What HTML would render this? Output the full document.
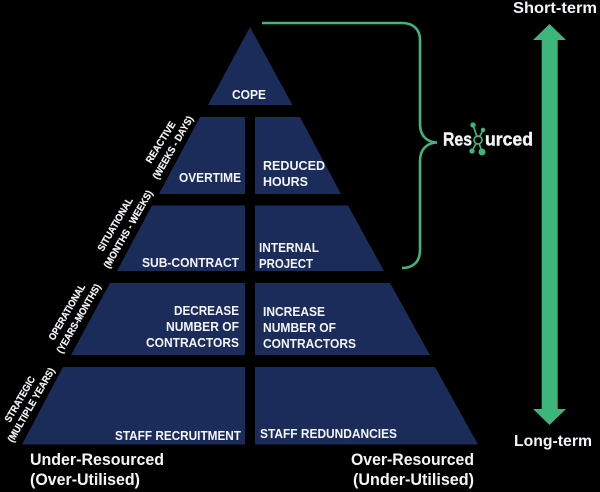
<!DOCTYPE html>
<html><head><meta charset="utf-8"><style>
html,body{margin:0;padding:0;background:#000;width:600px;height:492px;overflow:hidden}
svg{display:block}
text{font-family:"Liberation Sans",sans-serif;font-weight:bold;fill:#f4f5f8}
.s{font-size:12.5px}
.r{font-size:10px}
.b{font-size:16.5px}
</style></head><body>
<svg width="600" height="492" viewBox="0 0 600 492" xmlns="http://www.w3.org/2000/svg">
<rect width="600" height="492" fill="#000"/>
<g fill="#1b2c5a">
<polygon points="250,27 292.5,105 208,105"/>
<polygon points="200,117 245,117 245,194 159,194"/>
<polygon points="255,117 300,117 341,194 255,194"/>
<polygon points="152,205.5 245,205.5 245,271 117,271"/>
<polygon points="255,205.5 348,205.5 384,271 255,271"/>
<polygon points="110,283 245,283 245,355 71,355"/>
<polygon points="255,283 390,283 430,355 255,355"/>
<polygon points="63,367 245,367 245,444.5 22,444.5"/>
<polygon points="255,367 435,367 478,444.5 255,444.5"/>
</g>
<path d="M262,23 H402 C414,23 420,30 420,40 V124 C420,135 426,142 437,142.5 C426,143 420,150 420,161 V250 C420,261 414,268 402,268" fill="none" stroke="#3fb57c" stroke-width="2.6"/>
<polygon fill="#3cb67a" points="549.5,24 566,40 557.7,40 557.7,409 566,409 549.5,425 533,409 541.7,409 541.7,40 533,40"/>
<text class="s" x="232" y="99" textLength="34" lengthAdjust="spacingAndGlyphs">COPE</text>
<text class="s" x="179" y="182" textLength="62" lengthAdjust="spacingAndGlyphs">OVERTIME</text>
<text class="s" x="142" y="267" textLength="97" lengthAdjust="spacingAndGlyphs">SUB-CONTRACT</text>
<text class="s" x="174" y="315" textLength="65" lengthAdjust="spacingAndGlyphs">DECREASE</text>
<text class="s" x="166" y="331" textLength="73" lengthAdjust="spacingAndGlyphs">NUMBER OF</text>
<text class="s" x="146" y="347" textLength="93" lengthAdjust="spacingAndGlyphs">CONTRACTORS</text>
<text class="s" x="115" y="440" textLength="126" lengthAdjust="spacingAndGlyphs">STAFF RECRUITMENT</text>
<text class="s" x="263" y="170" textLength="62" lengthAdjust="spacingAndGlyphs">REDUCED</text>
<text class="s" x="263" y="186" textLength="45" lengthAdjust="spacingAndGlyphs">HOURS</text>
<text class="s" x="259" y="252" textLength="60" lengthAdjust="spacingAndGlyphs">INTERNAL</text>
<text class="s" x="259" y="268" textLength="54" lengthAdjust="spacingAndGlyphs">PROJECT</text>
<text class="s" x="263" y="316" textLength="62" lengthAdjust="spacingAndGlyphs">INCREASE</text>
<text class="s" x="263" y="332" textLength="73" lengthAdjust="spacingAndGlyphs">NUMBER OF</text>
<text class="s" x="263" y="348" textLength="93" lengthAdjust="spacingAndGlyphs">CONTRACTORS</text>
<text class="s" x="260" y="438" textLength="137" lengthAdjust="spacingAndGlyphs">STAFF REDUNDANCIES</text>
<text class="b" x="30" y="465" textLength="134" lengthAdjust="spacingAndGlyphs">Under-Resourced</text>
<text class="b" x="30" y="485" textLength="110" lengthAdjust="spacingAndGlyphs">(Over-Utilised)</text>
<text class="b" x="351" y="465" textLength="123" lengthAdjust="spacingAndGlyphs">Over-Resourced</text>
<text class="b" x="353" y="485" textLength="121" lengthAdjust="spacingAndGlyphs">(Under-Utilised)</text>
<text class="b" x="513" y="13" textLength="84" lengthAdjust="spacingAndGlyphs" style="font-size:15.5px">Short-term</text>
<text class="b" x="514" y="446" textLength="78" lengthAdjust="spacingAndGlyphs" style="font-size:15.5px">Long-term</text>
<g style="stroke:#f4f5f8;stroke-width:.2">
<text class="r" transform="translate(151,164) rotate(-58)" textLength="47" lengthAdjust="spacingAndGlyphs">REACTIVE</text>
<text class="r" transform="translate(158,180) rotate(-60)" textLength="71" lengthAdjust="spacingAndGlyphs">(WEEKS - DAYS)</text>
<text class="r" transform="translate(103,252) rotate(-60)" textLength="60" lengthAdjust="spacingAndGlyphs">SITUATIONAL</text>
<text class="r" transform="translate(109,269) rotate(-60)" textLength="88" lengthAdjust="spacingAndGlyphs">(MONTHS - WEEKS)</text>
<text class="r" transform="translate(54,341) rotate(-60)" textLength="63" lengthAdjust="spacingAndGlyphs">OPERATIONAL</text>
<text class="r" transform="translate(62,354) rotate(-60)" textLength="78" lengthAdjust="spacingAndGlyphs">(YEARS-MONTHS)</text>
<text class="r" transform="translate(10,423) rotate(-60)" textLength="51" lengthAdjust="spacingAndGlyphs">STRATEGIC</text>
<text class="r" transform="translate(13,443) rotate(-60)" textLength="84" lengthAdjust="spacingAndGlyphs">(MULTIPLE YEARS)</text>
</g>
<text x="443" y="145.5" style="font-size:18.5px;stroke:#f4f5f8;stroke-width:.4" textLength="29" lengthAdjust="spacingAndGlyphs">Res</text>
<text x="485" y="145.5" style="font-size:18.5px;stroke:#f4f5f8;stroke-width:.4" textLength="48" lengthAdjust="spacingAndGlyphs">urced</text>
<g stroke="#3fb57c" stroke-width="1.7" fill="#3fb57c">
<line x1="478" y1="140" x2="473" y2="125"/>
<line x1="478" y1="140" x2="483" y2="130"/>
<line x1="478" y1="140" x2="472" y2="151"/>
<line x1="478" y1="140" x2="482" y2="152"/>
<circle cx="473" cy="125" r="1.8"/>
<circle cx="483" cy="130" r="1.4"/>
<circle cx="472" cy="151" r="1.8"/>
<circle cx="482" cy="152" r="2.6"/>
<circle cx="478" cy="140" r="4" fill="#000"/>
</g>
</svg>
</body></html>
